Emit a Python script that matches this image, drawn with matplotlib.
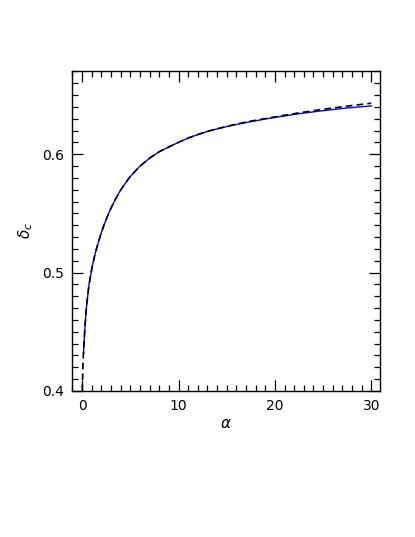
import matplotlib
matplotlib.use("Agg")
from matplotlib import pyplot as plt
from matplotlib.ticker import MultipleLocator, FormatStrFormatter

# values
alpha_solid = [0.14, 0.3, 0.45, 0.7, 1.04, 1.35, 1.66, 2.0, 2.35, 2.85, 3.39, 3.9, 4.42,
               4.92, 5.95, 6.99, 8.03, 9.07, 10.1, 11.15, 12.19, 13.2, 14.27, 15.3, 16.3,
               17.4, 18.9, 20.5, 22.5, 24.6, 27.3, 30.0]
delta_solid = [0.432, 0.455, 0.471, 0.489, 0.505, 0.516, 0.525, 0.534, 0.542, 0.552, 0.561,
               0.5685, 0.5748, 0.5805, 0.5896, 0.5967, 0.6023, 0.6065, 0.6105, 0.6142,
               0.6172, 0.6198, 0.622, 0.624, 0.6257, 0.6274, 0.6297, 0.6318, 0.6343,
               0.6365, 0.639, 0.6409]

alpha_dash = [0.02, 0.06, 0.1, 0.14, 0.3, 0.45, 0.7, 1.04, 1.35, 1.66, 2.0, 2.35, 2.85, 3.39,
              3.9, 4.42, 4.92, 5.95, 6.99, 8.03, 9.07, 10.1, 11.15, 12.19, 13.2, 14.27,
              15.3, 16.3, 17.4, 18.9, 20.5, 22.5, 24.6, 27.3, 30.0]
delta_dash = [0.400, 0.415, 0.425, 0.432, 0.455, 0.471, 0.489, 0.505, 0.516, 0.525, 0.534,
              0.542, 0.552, 0.561, 0.5685, 0.5748, 0.5805, 0.5896, 0.5967, 0.6023, 0.6065,
              0.6105, 0.6142, 0.6172, 0.6198, 0.6221, 0.6242, 0.626, 0.6279, 0.630,
              0.6323, 0.635, 0.6376, 0.6405, 0.6432]

fig = plt.figure(figsize=(4.15, 5.37), dpi=100)
ax = fig.add_axes([0.1735, 0.272, 0.742, 0.596])

ax.plot(alpha_solid, delta_solid, color="blue", lw=1.0)
ax.plot(alpha_dash, delta_dash, color="black", lw=1.2, linestyle=(0, (4, 2.5)))

ax.set_xlim(-1.05, 30.9)
ax.set_ylim(0.4, 0.6705)
ax.xaxis.set_major_locator(MultipleLocator(10))
ax.xaxis.set_minor_locator(MultipleLocator(1))
ax.yaxis.set_major_locator(MultipleLocator(0.1))
ax.yaxis.set_minor_locator(MultipleLocator(0.01))
ax.yaxis.set_major_formatter(FormatStrFormatter("%.1f"))

ax.tick_params(which="both", direction="in", top=True, right=True, width=0.9,
               labelsize=10, colors="black")
ax.tick_params(which="major", length=8, pad=6)
ax.tick_params(which="minor", length=4)
for s in ax.spines.values():
    s.set_linewidth(1.0)

ax.set_xlabel(r"$\alpha$", fontsize=11, labelpad=2)
ax.set_ylabel(r"$\delta_c$", fontsize=11, labelpad=5)

fig.savefig("out.png", dpi=100)
